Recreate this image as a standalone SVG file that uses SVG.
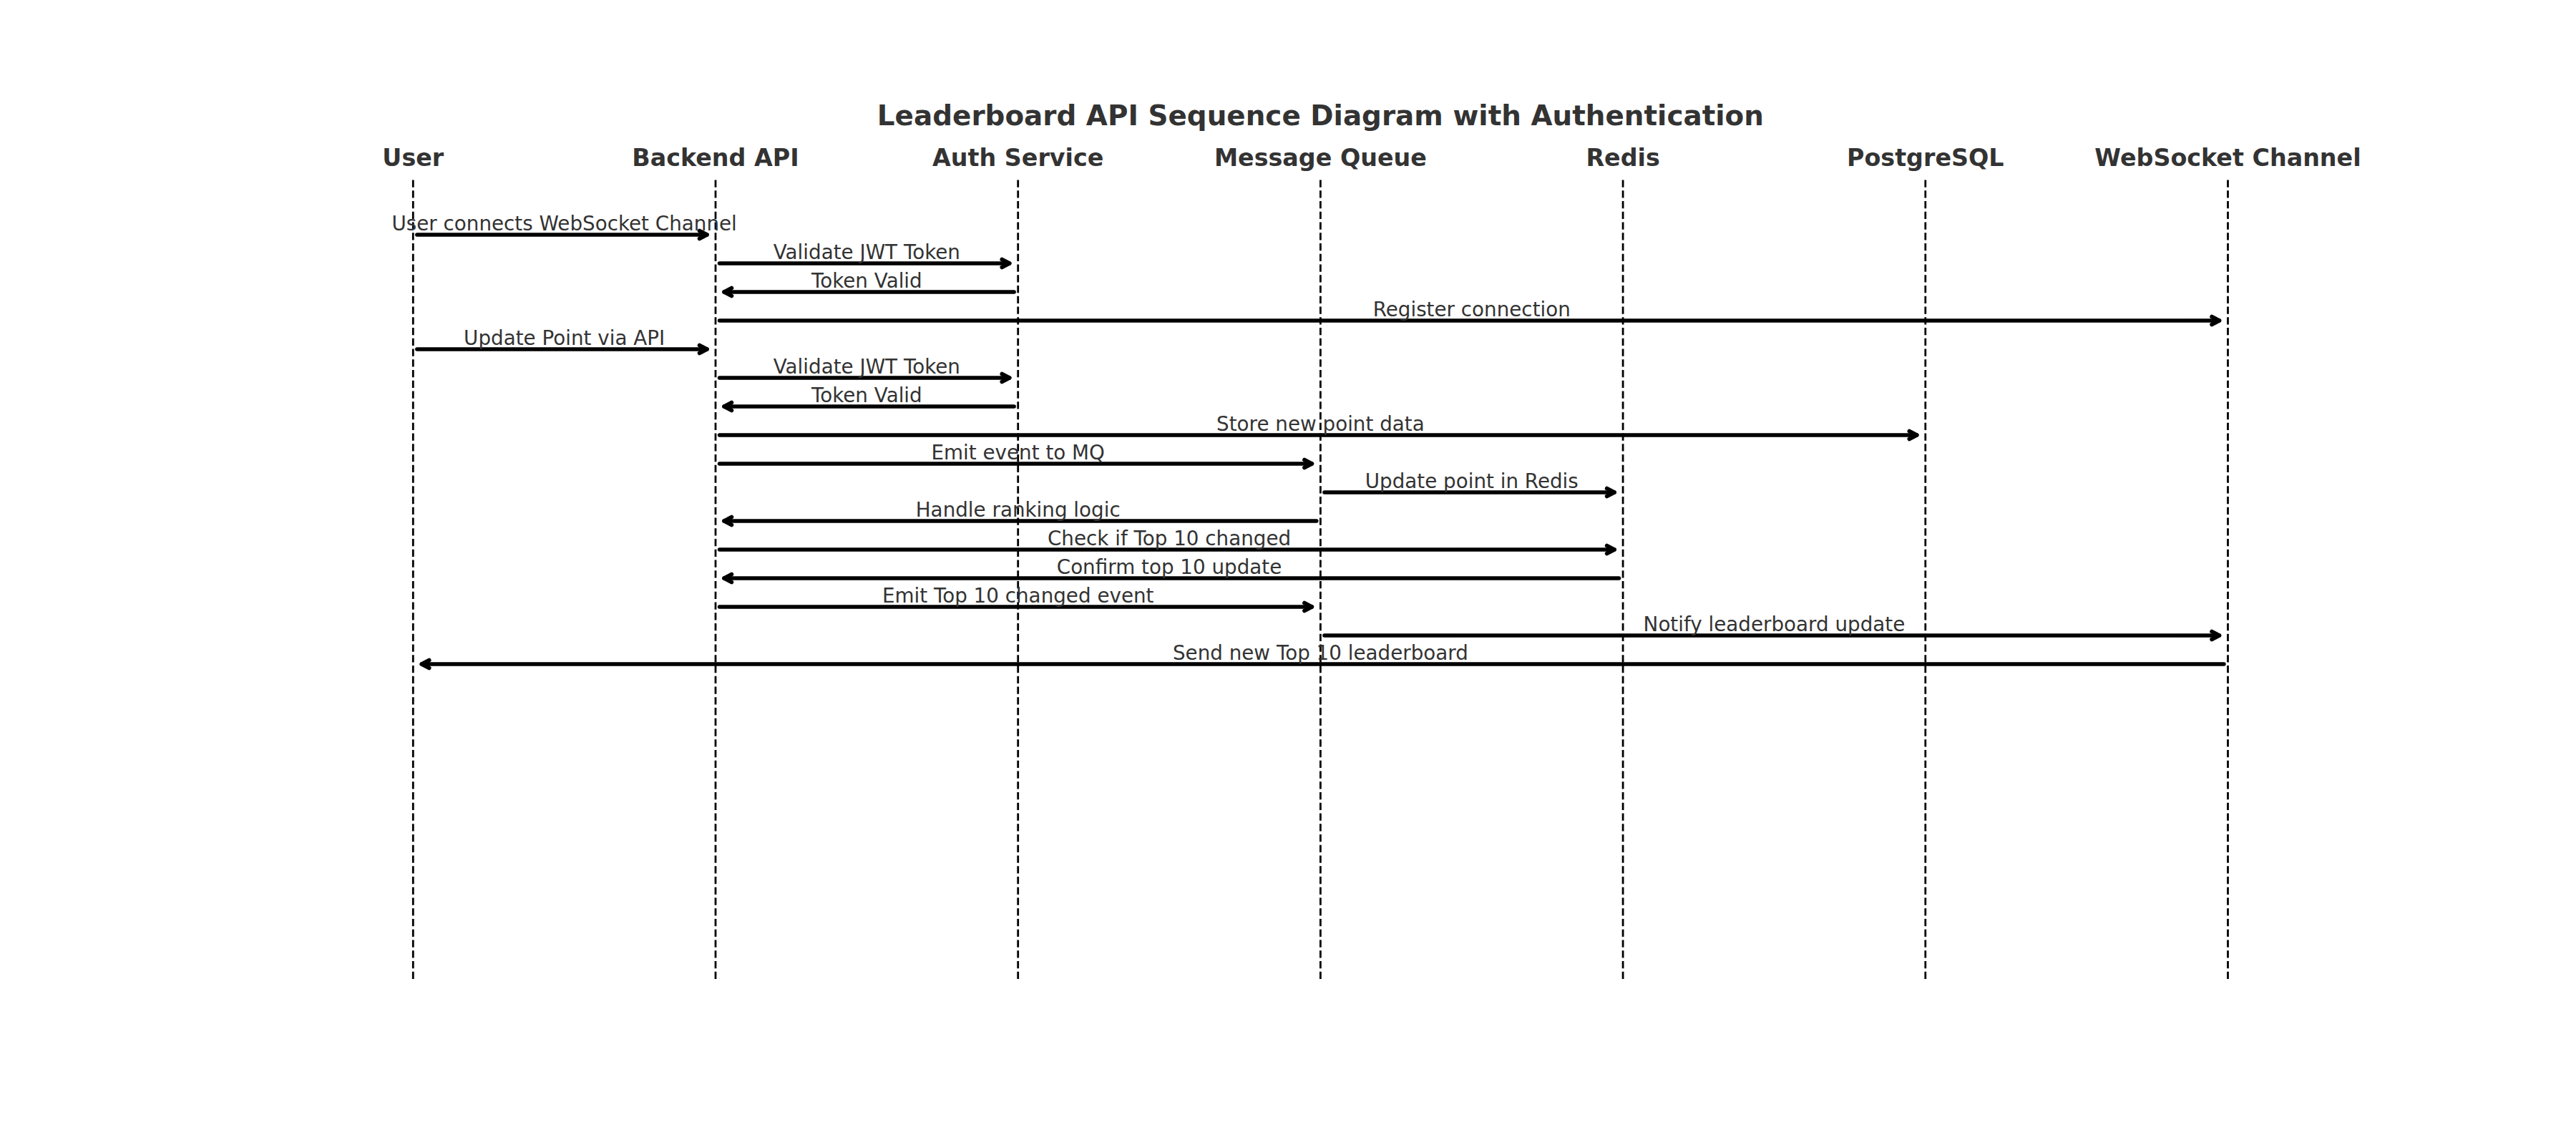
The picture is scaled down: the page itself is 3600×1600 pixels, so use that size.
<svg xmlns="http://www.w3.org/2000/svg" width="3600" height="1600" viewBox="0 0 3600 1600">
<style>
  .title { font-family: "DejaVu Sans", "Liberation Sans", sans-serif; font-weight: bold; font-size: 38.89px; fill: #333333; text-anchor: middle; }
  .head { font-family: "DejaVu Sans", "Liberation Sans", sans-serif; font-weight: bold; font-size: 33.33px; fill: #333333; text-anchor: middle; }
  .lbl { font-family: "DejaVu Sans", "Liberation Sans", sans-serif; font-size: 27.78px; fill: #333333; text-anchor: middle; }
  .life { stroke: #000000; stroke-width: 2.78; stroke-dasharray: 10.3 4.45; fill: none; }
  .msg { stroke: #000000; stroke-width: 5.56; stroke-linecap: round; fill: none; marker-end: url(#ah); }
</style>
<defs>
  <marker id="ah" markerUnits="userSpaceOnUse" orient="auto" refX="0" refY="0" viewBox="-20 -10 30 20" markerWidth="30" markerHeight="20" overflow="visible">
    <path d="M-10.5,-5.56 L0,0 L-10.5,5.56" fill="none" stroke="#000000" stroke-width="5.56" stroke-linecap="round" stroke-linejoin="round"/>
  </marker>
</defs>
<rect x="0" y="0" width="3600" height="1600" fill="#ffffff"/>
<text class="title" x="1845.4" y="175">Leaderboard API Sequence Diagram with Authentication</text>

<g id="node-user">
  <text class="head" x="577.3" y="232">User</text>
  <line class="life" x1="577.3" y1="1368" x2="577.3" y2="248"/>
</g>
<g id="node-backend">
  <text class="head" x="1000" y="232">Backend API</text>
  <line class="life" x1="1000" y1="1368" x2="1000" y2="248"/>
</g>
<g id="node-auth">
  <text class="head" x="1422.7" y="232">Auth Service</text>
  <line class="life" x1="1422.7" y1="1368" x2="1422.7" y2="248"/>
</g>
<g id="node-mq">
  <text class="head" x="1845.4" y="232">Message Queue</text>
  <line class="life" x1="1845.4" y1="1368" x2="1845.4" y2="248"/>
</g>
<g id="node-redis">
  <text class="head" x="2268.1" y="232">Redis</text>
  <line class="life" x1="2268.1" y1="1368" x2="2268.1" y2="248"/>
</g>
<g id="node-postgres">
  <text class="head" x="2690.8" y="232">PostgreSQL</text>
  <line class="life" x1="2690.8" y1="1368" x2="2690.8" y2="248"/>
</g>
<g id="node-websocket">
  <text class="head" x="3113.5" y="232">WebSocket Channel</text>
  <line class="life" x1="3113.5" y1="1368" x2="3113.5" y2="248"/>
</g>

<g id="connectors">
  <line class="msg" x1="582.86" y1="328" x2="988" y2="328"/>
  <line class="msg" x1="1005.56" y1="368" x2="1410.7" y2="368"/>
  <line class="msg" x1="1417.14" y1="408" x2="1012" y2="408"/>
  <line class="msg" x1="1005.56" y1="448" x2="3101.5" y2="448"/>
  <line class="msg" x1="582.86" y1="488" x2="988" y2="488"/>
  <line class="msg" x1="1005.56" y1="528" x2="1410.7" y2="528"/>
  <line class="msg" x1="1417.14" y1="568" x2="1012" y2="568"/>
  <line class="msg" x1="1005.56" y1="608" x2="2678.8" y2="608"/>
  <line class="msg" x1="1005.56" y1="648" x2="1833.4" y2="648"/>
  <line class="msg" x1="1850.96" y1="688" x2="2256.1" y2="688"/>
  <line class="msg" x1="1839.84" y1="728" x2="1012" y2="728"/>
  <line class="msg" x1="1005.56" y1="768" x2="2256.1" y2="768"/>
  <line class="msg" x1="2262.54" y1="808" x2="1012" y2="808"/>
  <line class="msg" x1="1005.56" y1="848" x2="1833.4" y2="848"/>
  <line class="msg" x1="1850.96" y1="888" x2="3101.5" y2="888"/>
  <line class="msg" x1="3107.94" y1="928" x2="589.3" y2="928"/>

  <text class="lbl" x="788.65" y="321.7">User connects WebSocket Channel</text>
  <text class="lbl" x="1211.35" y="361.7">Validate JWT Token</text>
  <text class="lbl" x="1211.35" y="401.7">Token Valid</text>
  <text class="lbl" x="2056.75" y="441.7">Register connection</text>
  <text class="lbl" x="788.65" y="481.7">Update Point via API</text>
  <text class="lbl" x="1211.35" y="521.7">Validate JWT Token</text>
  <text class="lbl" x="1211.35" y="561.7">Token Valid</text>
  <text class="lbl" x="1845.4" y="601.7">Store new point data</text>
  <text class="lbl" x="1422.7" y="641.7">Emit event to MQ</text>
  <text class="lbl" x="2056.75" y="681.7">Update point in Redis</text>
  <text class="lbl" x="1422.7" y="721.7">Handle ranking logic</text>
  <text class="lbl" x="1634.05" y="761.7">Check if Top 10 changed</text>
  <text class="lbl" x="1634.05" y="801.7">Confirm top 10 update</text>
  <text class="lbl" x="1422.7" y="841.7">Emit Top 10 changed event</text>
  <text class="lbl" x="2479.45" y="881.7">Notify leaderboard update</text>
  <text class="lbl" x="1845.4" y="921.7">Send new Top 10 leaderboard</text>
</g>
</svg>
